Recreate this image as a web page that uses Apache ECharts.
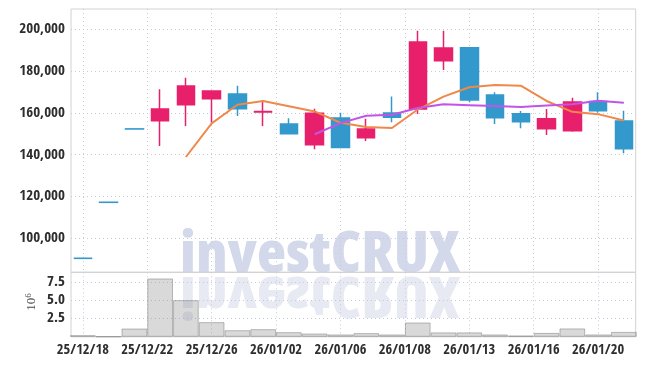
<!DOCTYPE html>
<html><head><meta charset="utf-8">
<script src="https://cdn.jsdelivr.net/npm/echarts@6/dist/echarts.min.js"></script>
<style>html,body{margin:0;padding:0;background:#fff}#c{width:645px;height:366px}</style>
</head><body><div id="c"></div>
<script>
const dates = ['25/12/18','25/12/19','25/12/22','25/12/23','25/12/24','25/12/26','25/12/29','25/12/30','26/01/02','26/01/05','26/01/06','26/01/07','26/01/08','26/01/09','26/01/12','26/01/13','26/01/14','26/01/15','26/01/16','26/01/19','26/01/20','26/01/21'];
const opens  = [90450,117250,152350,156300,163900,166800,169000,160400,154700,144800,157600,148100,160000,161900,185000,191200,168600,159600,152400,151500,165400,156100];
const closes = [90400,117200,152300,161900,172900,170500,162000,160700,150000,159800,143400,152300,157900,193900,191000,166200,157700,155800,157200,165200,161000,142900];
const highs  = [90450,117250,152350,171300,176800,170500,173000,166200,157400,162000,160100,157200,167900,199300,199300,191200,169900,160900,161900,167300,169900,161000];
const lows   = [90400,117200,152300,144200,153700,155300,158500,153700,150000,142600,143400,146600,155500,159500,180500,165100,154700,152600,149400,151000,160100,140700];
const volumes = [220000,30000,1130000,7960000,5000000,2000000,900000,1040000,630000,450000,320000,500000,320000,1950000,600000,600000,320000,170000,530000,1140000,320000,670000];
const ma5  = [null,null,null,null,138900,155000,163900,165700,163200,160700,155300,153300,152800,161600,167800,172300,173400,173000,165700,160500,159400,156400];
const ma10 = [null,null,null,null,null,null,null,null,null,149800,155100,158600,159100,162300,164100,163700,163300,162800,163500,164100,165800,164900];
const xTickValues = [0,2.5,5,7.5,10,12.5,15,17.5,20];
const xTickLabels = ['25/12/18','25/12/22','25/12/26','26/01/02','26/01/06','26/01/08','26/01/13','26/01/16','26/01/20'];
const yTickValues = [100000,120000,140000,160000,180000,200000];
const volTickValues = [2500000,5000000,7500000];

const candleData = dates.map((d,i)=>[i, opens[i], closes[i], lows[i], highs[i]]);
const volData = volumes.map((v,i)=>[i, v]);
const toPairs = arr => arr.map((v,i)=>v==null?null:[i,v]).filter(p=>p);

const FONT = '"Open Sans Condensed","Roboto Condensed",sans-serif';
const labelFont = {fontFamily:FONT, fontWeight:'bold', fontSize:15, color:'#2e2e2e'};
const gridLine = {show:true, lineStyle:{color:'#c6cbdc', type:[1,3], width:1}};
const RED='#e8206b', BLUE='#3399cc';
const WM_FONT = '800 condensed 56px "Open Sans","Open Sans Condensed",sans-serif';

const chart = echarts.init(document.getElementById('c'), null, {renderer:'canvas'});
chart.setOption({
  animation:false,
  backgroundColor:'#fff',
  grid:[
    {left:71, top:9, width:564.7, height:263.3, show:true, borderColor:'#d2d2d2', borderWidth:1, backgroundColor:'transparent', outerBoundsMode:'none'},
    {left:71, top:272.3, width:564.7, height:64.5, show:true, borderColor:'#d2d2d2', borderWidth:1, backgroundColor:'transparent', outerBoundsMode:'none'}
  ],
  xAxis:[
    {type:'value', gridIndex:0, min:-0.46, max:21.46, axisLine:{show:false}, axisTick:{show:false, customValues:xTickValues}, axisLabel:{show:false, customValues:xTickValues}, splitLine:gridLine},
    {type:'value', gridIndex:1, min:-0.46, max:21.46, axisLine:{show:false}, axisTick:{show:false, customValues:xTickValues},
      axisLabel:Object.assign({show:true, margin:6, customValues:xTickValues, formatter:v=>{const k=xTickValues.indexOf(v);return k<0?'':xTickLabels[k];}}, labelFont, {fontSize:14.5}), splitLine:gridLine}
  ],
  yAxis:[
    {type:'value', gridIndex:0, min:83730, max:209710, axisLine:{show:false}, axisTick:{show:false, customValues:yTickValues},
      axisLabel:Object.assign({customValues:yTickValues, margin:6, formatter:v=>v.toLocaleString('en-US')}, labelFont), splitLine:gridLine},
    {type:'value', gridIndex:1, min:0, max:8800000, axisLine:{show:false}, axisTick:{show:false, customValues:volTickValues},
      axisLabel:Object.assign({customValues:volTickValues, margin:6, formatter:v=>(v/1e6).toFixed(1)}, labelFont), splitLine:gridLine}
  ],
  graphic:[
    {type:'text', z:-10, x:180, y:256, scaleX:1.07, style:{text:'investCRUX', font:WM_FONT, fill:'#d3d8ea', verticalAlign:'middle', align:'left'}},
    {type:'text', z:-10, x:180, y:293, scaleX:1.07, scaleY:-1, style:{text:'investCRUX', font:WM_FONT, fill:'#e7e9f3', verticalAlign:'middle', align:'left'}},
    {type:'text', x:32, y:302, rotation:Math.PI/2, style:{text:'{a|10}{b|6}', align:'center', verticalAlign:'middle',
      rich:{a:{fontFamily:'"Liberation Serif","DejaVu Serif",serif', fontSize:13, fill:'#444', color:'#444'}, b:{fontFamily:'"Liberation Serif","DejaVu Serif",serif', fontSize:9, fill:'#444', color:'#444', verticalAlign:'top', padding:[0,0,6,0]}}}}
  ],
  series:[
    {type:'candlestick', xAxisIndex:0, yAxisIndex:0, data:candleData, encode:{x:0, y:[1,2,3,4]}, barWidth:18,
      itemStyle:{color:RED, color0:BLUE, borderColor:RED, borderColor0:BLUE, borderWidth:1.5}},
    {type:'line', xAxisIndex:0, yAxisIndex:0, data:toPairs(ma5), showSymbol:false, lineStyle:{color:'#f0884a', width:2}, z:3},
    {type:'line', xAxisIndex:0, yAxisIndex:0, data:toPairs(ma10), showSymbol:false, lineStyle:{color:'#c254e6', width:2}, z:3},
    {type:'bar', xAxisIndex:1, yAxisIndex:1, data:volData, barWidth:25.7, itemStyle:{color:'rgba(140,140,140,0.33)', borderColor:'rgba(110,110,110,0.45)', borderWidth:1}}
  ]
});
</script></body></html>
